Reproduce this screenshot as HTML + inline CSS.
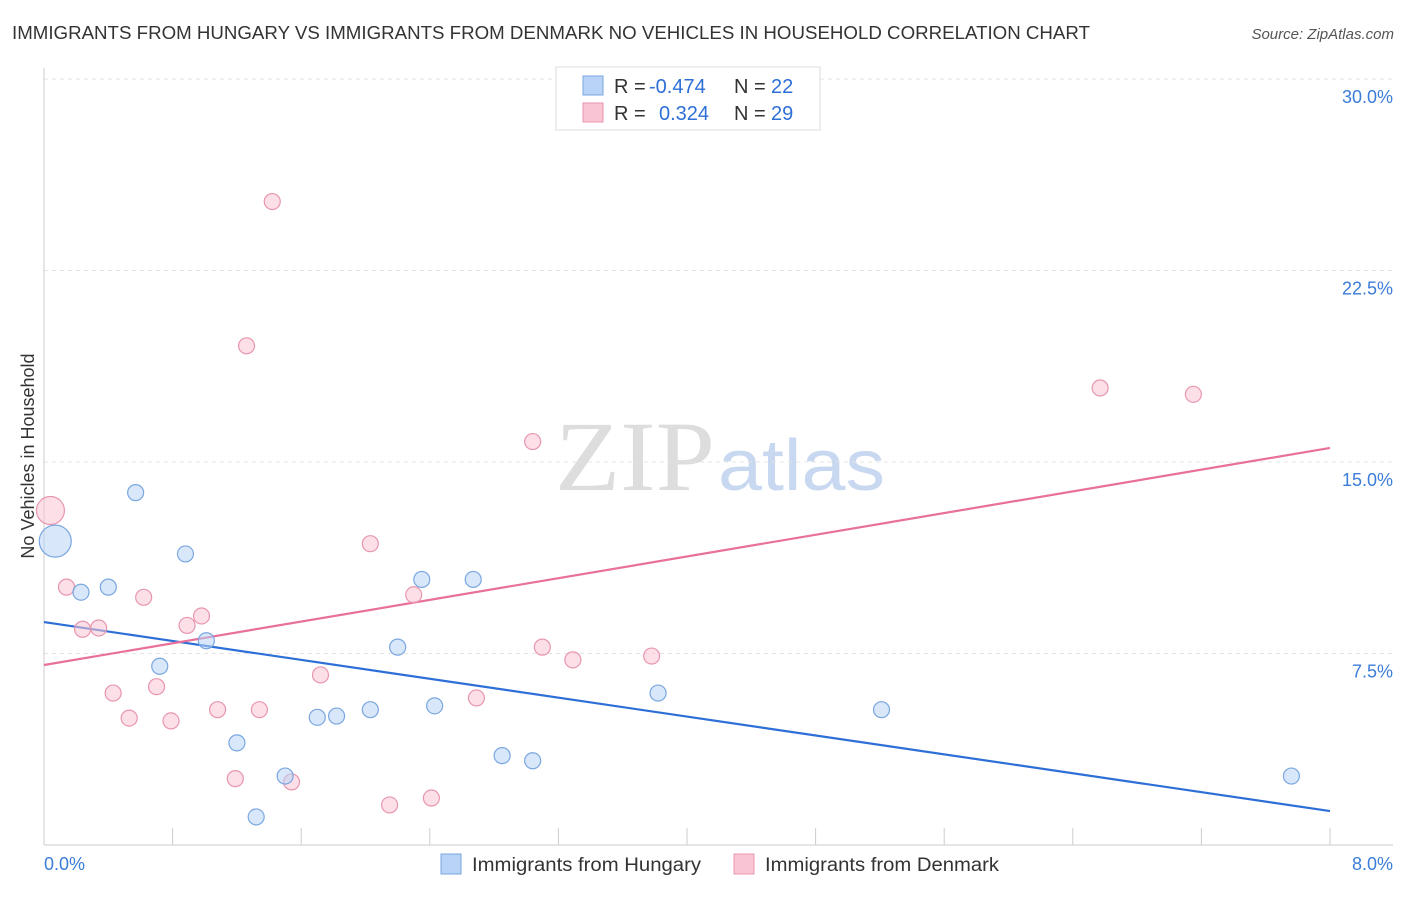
<!DOCTYPE html>
<html><head><meta charset="utf-8"><style>
body{margin:0;background:#fff;}
</style></head><body>
<svg id="chart" width="1406" height="892" xmlns="http://www.w3.org/2000/svg" font-family="Liberation Sans, sans-serif">
<text x="12" y="39" font-size="18" fill="#333" textLength="1078" lengthAdjust="spacingAndGlyphs">IMMIGRANTS FROM HUNGARY VS IMMIGRANTS FROM DENMARK NO VEHICLES IN HOUSEHOLD CORRELATION CHART</text>
<text x="1394" y="39" font-size="15" fill="#555" text-anchor="end" font-style="italic">Source: ZipAtlas.com</text>
<g>
<text x="555" y="490" font-size="100" fill="#ddd" font-family="Liberation Serif, serif" textLength="160" lengthAdjust="spacingAndGlyphs">ZIP</text>
<text x="718" y="490" font-size="72" fill="#c8d8f0" textLength="167" lengthAdjust="spacingAndGlyphs">atlas</text>
</g>
<g id="grid"></g>
<g id="axes"></g>
<g id="lines"></g>
<g id="points"></g>
<text transform="translate(34,456) rotate(-90)" font-size="18" fill="#333" text-anchor="middle">No Vehicles in Household</text>
<text x="44" y="870" font-size="18" fill="#3b7dd8">0.0%</text>
<text x="1393" y="870" font-size="18" fill="#3b7dd8" text-anchor="end">8.0%</text>
<g font-size="20">
<rect x="556" y="67" width="264" height="63" fill="#fff" stroke="#ddd"/>
<rect x="583" y="76" width="20" height="19" fill="#b8d3f5" stroke="#7aa7e0"/>
<rect x="583" y="103" width="20" height="19" fill="#f9c4d3" stroke="#e896ae"/>
<text x="614" y="93" fill="#333">R =</text>
<text x="649" y="93" fill="#2d6fd6">-0.474</text>
<text x="734" y="93" fill="#333">N =</text>
<text x="771" y="93" fill="#2d6fd6">22</text>
<text x="614" y="120" fill="#333">R =</text>
<text x="659" y="120" fill="#2d6fd6">0.324</text>
<text x="734" y="120" fill="#333">N =</text>
<text x="771" y="120" fill="#2d6fd6">29</text>
</g>
<g>
<rect x="441" y="854" width="20" height="20" fill="#b8d3f5" stroke="#7aa7e0"/>
<text x="472" y="871" font-size="19" fill="#333" textLength="229" lengthAdjust="spacingAndGlyphs">Immigrants from Hungary</text>
<rect x="734" y="854" width="20" height="20" fill="#f9c4d3" stroke="#e896ae"/>
<text x="765" y="871" font-size="19" fill="#333" textLength="234" lengthAdjust="spacingAndGlyphs">Immigrants from Denmark</text>
</g>
</svg>
<script>
const yTicks=[7.5,15,22.5,30];
const yTickLabels=["7.5%","15.0%","22.5%","30.0%"];
const hungaryX=[0.07,0.23,0.40,0.57,0.88,0.72,1.01,1.20,1.32,1.50,1.70,1.82,2.03,2.20,2.35,2.43,2.67,2.85,3.04,3.82,5.21,7.76];
const hungaryY=[11.9,9.9,10.1,13.8,11.4,7.0,8.0,4.0,1.1,2.7,5.0,5.05,5.3,7.75,10.4,5.45,10.4,3.5,3.3,5.95,5.3,2.7];
const hungaryR=[16,8,8,8,8,8,8,8,8,8,8,8,8,8,8,8,8,8,8,8,8,8];
const denmarkX=[0.04,0.14,0.24,0.34,0.43,0.53,0.62,0.70,0.79,0.89,0.98,1.08,1.19,1.26,1.34,1.42,1.54,1.72,2.03,2.15,2.30,2.41,2.69,3.04,3.10,3.29,3.78,6.57,7.15];
const denmarkY=[13.1,10.1,8.45,8.5,5.95,4.97,9.7,6.2,4.86,8.6,8.97,5.3,2.6,19.55,5.3,25.2,2.47,6.66,11.8,1.57,9.8,1.84,5.76,15.8,7.75,7.25,7.4,17.9,17.65];
const denmarkR=[14,8,8,8,8,8,8,8,8,8,8,8,8,8,8,8,8,8,8,8,8,8,8,8,8,8,8,8,8];
const hungaryTrend=[8.73,1.33];
const denmarkTrend=[7.05,15.55];
const NS="http://www.w3.org/2000/svg";
const X0=44,X1=1330,Y0=845,PXY=191.5/7.5;
const sx=v=>X0+(v/8)*(X1-X0), sy=v=>Y0-v*PXY;
function mk(tag,attrs,parent){const e=document.createElementNS(NS,tag);for(const k in attrs)e.setAttribute(k,attrs[k]);document.getElementById(parent).appendChild(e);return e;}
yTicks.forEach((t,i)=>{
 const l=mk('line',{x1:44,x2:1393,y1:sy(t),y2:sy(t),stroke:'#e4e4e4','stroke-dasharray':'4,4'},'grid');
 
 
 const tx=mk('text',{x:1393,y:sy(t)+24,'font-size':18,fill:'#3b7dd8','text-anchor':'end'},'grid');
 tx.textContent=yTickLabels[i];
 
 
});
const ax=mk('line',{x1:44,x2:44,y1:68,y2:845,stroke:'#ccc'},'axes');


const bx=mk('line',{x1:44,x2:1393,y1:845,y2:845,stroke:'#ccc'},'axes');


for(let i=0;i<=10;i++){const v=i*0.8;
 const t=mk('line',{x1:sx(v),x2:sx(v),y1:828,y2:845,stroke:'#ccc'},'axes');
 
 
}
function trend(tr,color,name){
 const l=mk('line',{x1:sx(0),y1:sy(tr[0]),x2:sx(8),y2:sy(tr[1]),stroke:color,'stroke-width':2.2},'lines');
 
 
}
function pts(xs,ys,rs,fill,stroke,name){
 xs.forEach((x,i)=>{
  const c=mk('circle',{cx:sx(x),cy:sy(ys[i]),r:rs[i],fill:fill,'fill-opacity':0.55,stroke:stroke,'stroke-width':1.2},'points');
  
  
 });
}
pts(denmarkX,denmarkY,denmarkR,'#f9c4d3','#e896ae','denmark-point');
pts(hungaryX,hungaryY,hungaryR,'#b8d3f5','#7aa7e0','hungary-point');
trend(hungaryTrend,'#2d6fd6','hungary-trend-line');
trend(denmarkTrend,'#e8709a','denmark-trend-line');
</script>
</body></html>
